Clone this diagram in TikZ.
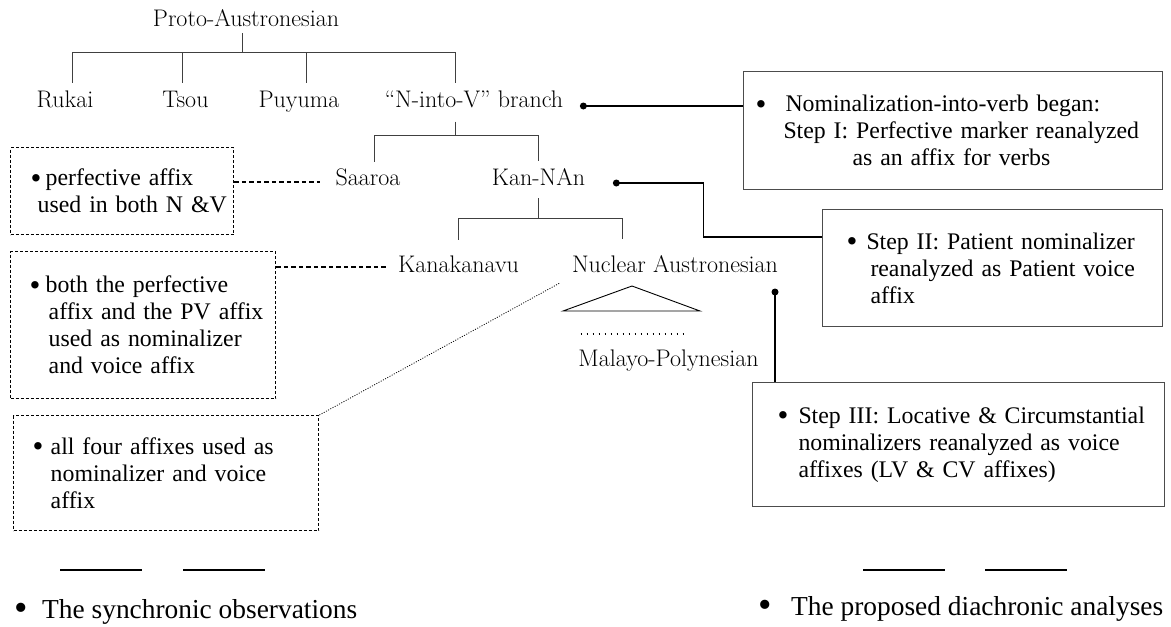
\documentclass[tikz,border=0pt]{standalone}
\usepackage{fontspec}
\newfontfamily\boxfont{Liberation Serif}
\newcommand{\bul}[1]{\raisebox{-0.1em}{\scalebox{#1}{•}}}

\tikzset{
    lang/.style={font=\fontsize{24}{28}\selectfont, inner sep=0pt, anchor=base},
    treeline/.style={draw=black!75, line width=0.9pt},
    stepbox/.style={draw=black!70, line width=1pt, font=\boxfont\fontsize{23.8}{27}\selectfont,
        align=left, inner xsep=12pt, inner ysep=0pt, anchor=north west},
    obsbox/.style={stepbox, draw=black, line width=1.4pt, dash pattern=on 3pt off 2pt},
    linkline/.style={line width=1.5pt},
    obslink/.style={line width=1.3pt, dash pattern=on 4.5pt off 3pt},
    legendtext/.style={font=\boxfont\fontsize{27.4}{31}\selectfont, inner sep=0pt, anchor=base west}
}

\begin{document}
\begin{tikzpicture}[x=1pt, y=-1pt]
    \useasboundingbox (0,0) rectangle (1171,627);

    % Lenguas
    \node[lang] (proto) at (246,26) {Proto-Austronesian};
    \node[lang] (rukai) at (65,107) {Rukai};
    \node[lang] (tsou) at (185.5,107) {Tsou};
    \node[lang] (puyuma) at (299,107) {Puyuma};
    \node[lang] (nvbranch) at (474,107) {“N-into-V” branch};
    \node[lang] (saaroa) at (368,185) {Saaroa};
    \node[lang] (kannan) at (538.5,185) {Kan-NAn};
    \node[lang] (kanakanavu) at (458.5,272) {Kanakanavu};
    \node[lang] (nuclear) at (675,272) {Nuclear Austronesian};
    \node[lang] (malayo) at (668.5,366) {Malayo-Polynesian};

    % Ramas del árbol
    \path (proto.south) ++(-4,26) coordinate (pj);
    \draw[treeline] (proto.south) ++(-4,7) -- (pj);
    \draw[treeline, shorten >=7.5pt] (rukai.north) ++(7,-7.5) |- (pj) -| ([xshift=-19pt]nvbranch.north);
    \draw[treeline] (tsou.north) ++(-3.5,-7.5) -- ++(0,-31);
    \draw[treeline] (puyuma.north) ++(7,-7.5) -- ++(0,-31);

    \path (nvbranch.south) ++(-19,28) coordinate (bj);
    \draw[treeline] (nvbranch.south) ++(-19,14) -- (bj);
    \draw[treeline, shorten >=6.5pt] (saaroa.north) ++(6,-6.5) |- (bj) -| (kannan.north);

    \path (kannan.south) ++(0,33) coordinate (kj);
    \draw[treeline] (kannan.south) ++(0,13) -- (kj);
    \draw[treeline, shorten >=15.5pt] (kanakanavu.north) ++(0,-15.5) |- (kj) -| ([xshift=-53pt]nuclear.north);

    % Triángulo y puntos bajo Nuclear Austronesian
    \draw[black, line width=0.9pt] (nuclear.base) ++(-43,14) -- ++(-69,25) -- ++(137,0) -- cycle;
    \draw[line width=1.5pt, dash pattern=on 1.5pt off 4.5pt] (malayo.base) ++(-88,-32) -- ++(104,0);

    % Cajas de la derecha (análisis diacrónico)
    \node[stepbox, text width=395pt, minimum height=118pt] (step1) at (743,71)
        {\makebox[30pt][l]{\bul{1.3}}Nominalization-into-verb began:\\
         \hspace*{28pt}Step I: Perfective marker reanalyzed\\
         \hspace*{97pt}as an affix for verbs};
    \node[stepbox, text width=316pt, minimum height=117pt] (step2) at (822,209)
        {\hspace*{12pt}\makebox[20pt][l]{\bul{1.3}}Step II: Patient nominalizer\\
         \hspace*{36pt}reanalyzed as Patient voice\\
         \hspace*{36pt}affix};
    \node[stepbox, text width=388pt, minimum height=124pt] (step3) at (752,382)
        {\hspace*{13pt}\makebox[21pt][l]{\bul{1.3}}Step III: Locative \& Circumstantial\\
         \hspace*{34pt}nominalizers reanalyzed as voice\\
         \hspace*{34pt}affixes (LV \& CV affixes)};

    % Cajas de la izquierda (observaciones sincrónicas)
    \node[obsbox, inner xsep=5pt, text width=213pt, minimum height=87pt] (perfbox) at (10,147)
        {\hspace*{15pt}\makebox[15pt][l]{\bul{1.3}}perfective affix\\
         \hspace*{22pt}used in both N \&V};
    \node[obsbox, text width=241pt, minimum height=147pt] (pvbox) at (10,251)
        {\hspace*{7pt}\makebox[16pt][l]{\bul{1.3}}both the perfective\\
         \hspace*{26pt}affix and the PV affix\\
         \hspace*{26pt}used as nominalizer\\
         \hspace*{26pt}and voice affix};
    \node[obsbox, text width=281pt, minimum height=115pt] (fourbox) at (13,415)
        {\hspace*{7pt}\makebox[18pt][l]{\bul{1.3}}all four affixes used as\\
         \hspace*{25pt}nominalizer and voice\\
         \hspace*{25pt}affix};

    % Conectores con punto
    \path (nvbranch.base east) ++(20,-1) coordinate (d1);
    \draw[linkline] (d1) -- (d1 -| step1.west);
    \fill (d1) circle (3.5pt);

    \path (kannan.base east) ++(31,-2) coordinate (d2);
    \draw[linkline] (d2) -- ++(87,0) |- ([yshift=-28pt]step2.north west);
    \fill (d2) circle (3.5pt);

    \path ([xshift=23pt]step3.north west) ++(0,-90) coordinate (d3);
    \draw[linkline] (d3) -- (d3 |- step3.north);
    \fill (d3) circle (3.5pt);

    % Conectores punteados
    \path (saaroa.base west) ++(-15,-3) coordinate (sa);
    \draw[obslink] (sa -| perfbox.east) -- (sa);
    \path (kanakanavu.base west) ++(-11,-5) coordinate (ka);
    \draw[obslink] (ka -| pvbox.east) -- (ka);
    \path (nuclear.base west) ++(-12,11) coordinate (nu);
    \draw[line width=0.8pt, dash pattern=on 1pt off 1.5pt] (fourbox.north east) -- (nu);

    % Leyenda
    \foreach \a in {60,183,863,985}
        \draw[line width=2pt] (\a,570) -- ++(82,0);
    \node[legendtext] (synchr) at (14,618) {\makebox[28pt][l]{\bul{1.4}}The synchronic observations};
    \node[legendtext] (diachr) at (758,615) {\makebox[33pt][l]{\bul{1.4}}The proposed diachronic analyses};
\end{tikzpicture}
\end{document}
